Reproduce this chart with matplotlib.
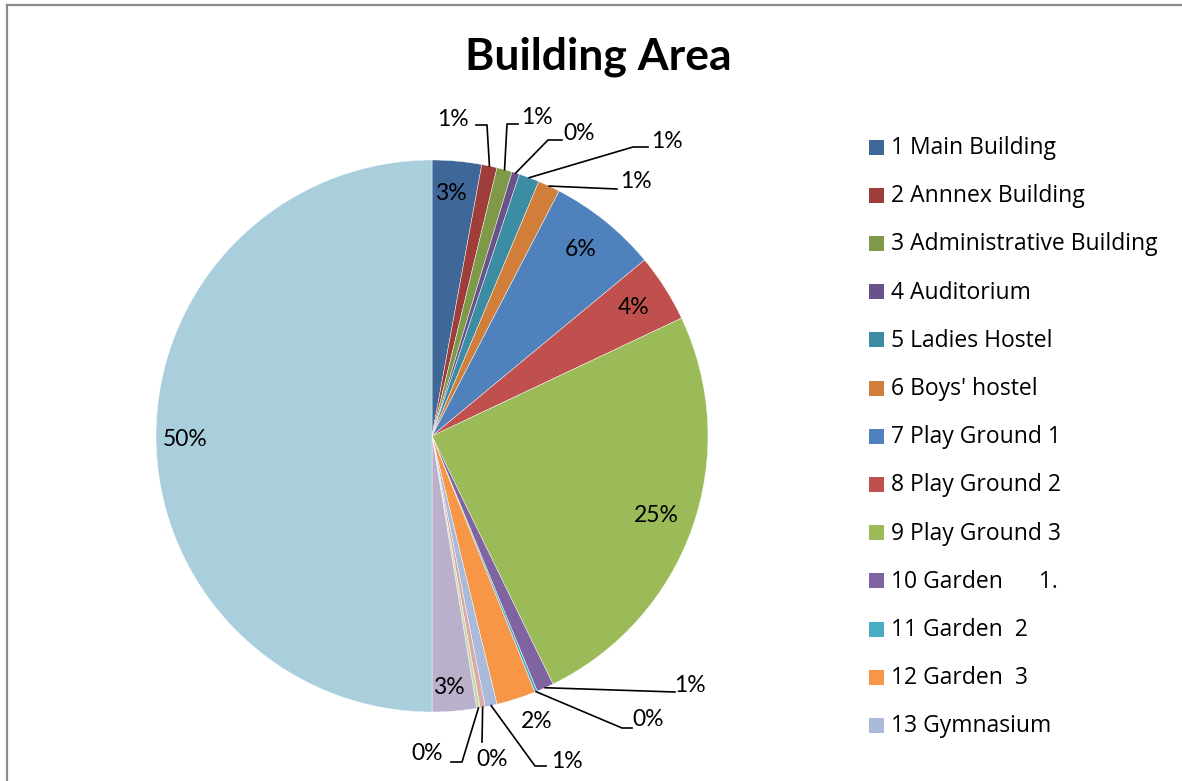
import matplotlib.pyplot as plt
from matplotlib.patches import Rectangle
from matplotlib.lines import Line2D
import numpy as np

# slice data (share of total area)
names = [
    "1 Main Building", "2 Annnex Building", "3 Administrative Building",
    "4 Auditorium", "5 Ladies Hostel", "6 Boys' hostel", "7 Play Ground 1",
    "8 Play Ground 2", "9 Play Ground 3", "10 Garden      1.", "11 Garden  2",
    "12 Garden  3", "13 Gymnasium", "14", "15", "16", "17",
]
values = [2.9, 0.9, 0.9, 0.45, 1.2, 1.3, 6.4, 4.0, 24.9, 1.0, 0.15,
          2.3, 0.7, 0.3, 0.2, 2.6, 50.2]
colors = [
    "#3f6797", "#9e3d3a", "#7e9a49", "#69518a", "#3c8da3", "#d07e3a",
    "#4f81bd", "#c0504d", "#9bbb59", "#8064a2", "#4bacc6", "#f79646",
    "#a9badb", "#dba9a8", "#c9daa9", "#bab0cb", "#a9cedc",
]
n_legend = 13

W, H = 1182, 781
CX, CY, R = 432, 436, 276

# label layout in pixels: (text x, text y, leader bend points or None)
label_layout = {
    0: ((451, 193), None),
    1: ((453, 119), [(487, 125), (476, 125)]),
    2: ((537, 117), [(507, 124), (518, 124)]),
    3: ((579, 134), [(548, 140), (562, 140)]),
    4: ((667, 142), [(633, 147), (648, 147)]),
    5: ((636, 181), [(617, 189)]),
    6: ((581, 249), None),
    7: ((634, 307), None),
    8: ((656, 515), None),
    9: ((690, 686), [(675, 692)]),
    10: ((648, 720), [(622, 728), (632, 728)]),
    11: ((537, 721), None),
    12: ((567, 761), [(535, 766), (546, 766)]),
    13: ((492, 760), [(482, 742)]),
    14: ((427, 754), [(462, 762), (451, 762)]),
    15: ((449, 687), None),
    16: ((185, 440), None),
}


def to_data(px, py):
    return (px - CX) / R, (CY - py) / R


def main():
    plt.rcParams["font.family"] = ["Lato", "DejaVu Sans"]
    fig = plt.figure(figsize=(W / 100, H / 100), dpi=100)

    # chart frame (runs off the right/bottom edge in the original)
    fig.add_artist(Line2D([6.5 / W, 6.5 / W], [0, 1 - 5 / H],
                          color="#8c8c8c", lw=1.6))
    fig.add_artist(Line2D([6.5 / W, 1], [1 - 5 / H, 1 - 5 / H],
                          color="#8c8c8c", lw=1.6))

    fig.text(598 / W, 1 - 57 / H, "Building Area", ha="center", va="center",
             fontsize=32, fontweight="bold")

    ax = fig.add_axes([(CX - R) / W, (H - CY - R) / H, 2 * R / W, 2 * R / H])
    wedges, _ = ax.pie(values, colors=colors, startangle=90, counterclock=False,
                       radius=1, wedgeprops=dict(edgecolor="white", linewidth=0.3))
    ax.set_xlim(-1, 1)
    ax.set_ylim(-1, 1)
    ax.set_aspect("equal")
    ax.axis("off")

    total = sum(values)
    for i, w in enumerate(wedges):
        pct = f"{round(values[i] / total * 100)}%"
        (tx, ty), path = label_layout[i]
        x, y = to_data(tx, ty)
        ax.text(x, y, pct, ha="center", va="center", fontsize=16.5,
                color="black", clip_on=False)
        if path:
            mid = np.deg2rad((w.theta1 + w.theta2) / 2)
            pts = [(np.cos(mid), np.sin(mid))] + [to_data(px, py) for px, py in path]
            xs, ys = zip(*pts)
            ax.plot(xs, ys, color="black", lw=1.2, clip_on=False)

    # legend (only the first entries fit in the original)
    for i in range(n_legend):
        yc = 147 + i * 48.2
        fig.add_artist(Rectangle((869 / W, 1 - (yc + 7.5) / H), 15 / W, 15 / H,
                                 facecolor=colors[i], edgecolor="none"))
        fig.text(891 / W, 1 - (yc + 1) / H, names[i], ha="left", va="center",
                 fontsize=16.5, family=["Open Sans", "DejaVu Sans"])

    fig.savefig("out.png", dpi=100)
    plt.close(fig)


if __name__ == "__main__":
    main()
